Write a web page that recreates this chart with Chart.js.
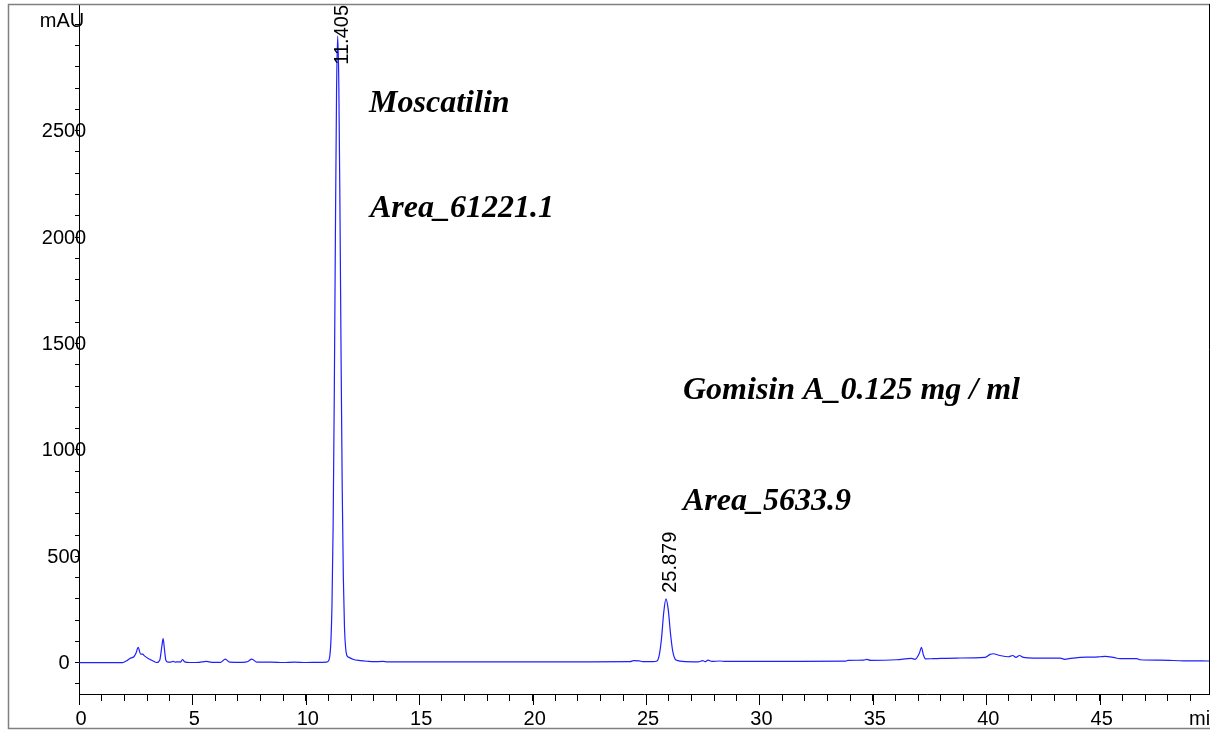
<!DOCTYPE html>
<html>
<head>
<meta charset="utf-8">
<title>Chromatogram</title>
<script src="https://cdn.jsdelivr.net/npm/chart.js@4.4.1/dist/chart.umd.min.js"></script>
<style>
  html, body { margin: 0; padding: 0; background: #fff; }
  #chrom { display: block; }
</style>
</head>
<body>
<canvas id="chrom" width="1220" height="731"></canvas>
<script>
// ========== trace data ==========
const TIME_MIN = [
  0, 1.0, 1.9, 1.95, 2.10, 2.24, 2.42, 2.51, 2.61, 2.71, 2.80, 2.90, 3.05, 3.27, 3.42,
  3.56, 3.65, 3.71, 3.77, 3.83, 3.93, 4.05, 4.15, 4.25, 4.37, 4.48, 4.56, 4.66, 4.88,
  5.3, 5.62, 5.85, 6.25, 6.45, 6.64, 7.2, 7.45, 7.62, 7.84, 8.48, 9.0, 9.5, 10.0, 10.53,
  10.9, 11.0, 11.055, 11.105, 11.155, 11.205, 11.255, 11.305, 11.355, 11.405, 11.455,
  11.505, 11.555, 11.605, 11.655, 11.705, 11.755, 11.805, 11.9, 12.1, 12.4, 12.7, 13.0,
  13.4, 13.6, 14.5, 16, 18, 20, 22, 24.3, 24.45, 24.7, 24.85, 25.3, 25.48, 25.58, 25.68,
  25.78, 25.879, 25.98, 26.08, 26.18, 26.28, 26.4, 26.6, 27.3, 27.5, 27.6, 27.73, 27.9,
  28.26, 28.5, 31.8, 33.8, 33.9, 34.6, 34.73, 34.9, 36.05, 36.7, 36.86, 37.05, 37.14,
  37.23, 37.32, 37.67, 38.7, 39.95, 40.17, 40.31, 40.6, 40.97, 41.17, 41.31, 41.46, 41.64,
  42.08, 43.26, 43.45, 43.7, 44.43, 44.72, 45.02, 45.24, 45.61, 45.9, 46.64, 46.78, 47.67,
  48.7, 49.82
];
const SIGNAL_MAU = [
  0, 0, 0, 1, 9, 20, 28, 44, 72, 41, 40, 31, 20, 8, 1,
  12, 75, 113, 60, 12, 3, 3, 6, 3, 4, 3, 15, 4, 1,
  2, 6, 2, 2, 17, 3, 2, 6, 17, 3, 3, 1, 3, 1, 2,
  3, 8, 29, 98, 278, 650, 1258, 2018, 2680, 2945, 2718,
  2138, 1434, 819, 398, 165, 70, 35, 25, 15, 10, 7, 5,
  6, 4, 4, 4, 4, 4, 4, 5, 10, 9, 5, 5, 8, 35, 112,
  236, 300, 248, 135, 52, 17, 10, 6, 4, 10, 5, 12, 6,
  8, 6, 6, 7, 11, 12, 16, 11, 14, 20, 16, 44, 72,
  36, 18, 19, 22, 25, 39, 42, 34, 28, 34, 25, 34, 25,
  22, 22, 16, 20, 26, 26, 28, 30, 25, 19, 19, 14, 12,
  9, 8
];
const PEAK_RT = [11.405, 25.879];

// ========== axes ==========
const X_MIN = 0, X_MAX = 49.82;
const Y_MIN = -147, Y_MAX = 3095;
const X_MAJOR = [0, 5, 10, 15, 20, 25, 30, 35, 40, 45];
const Y_MAJOR = [0, 500, 1000, 1500, 2000, 2500];
const X_UNIT = "min";
const Y_UNIT = "mAU";
const Y_UNIT_AT = 3000;
const X_MINOR = Array.from({ length: 50 }, (_, i) => i);
const Y_MINOR = Array.from({ length: 32 }, (_, i) => (i - 1) * 100);

// free text notes, anchored in data units (min, mAU)
const NOTES = [
  { text: "Moscatilin", x: 12.79, y: 2587 },
  { text: "Area_61221.1", x: 12.83, y: 2095 },
  { text: "Gomisin A_0.125 mg / ml", x: 26.63, y: 1241 },
  { text: "Area_5633.9", x: 26.63, y: 716 },
];

const SANS = '"Liberation Sans", Arial, sans-serif';
const SERIF = '"Liberation Serif", "Times New Roman", serif';

// ========== overlay drawing ==========
const chromOverlay = {
  id: "chromOverlay",
  afterDraw(chart) {
    const { ctx, chartArea: area, scales } = chart;
    const xs = scales.x, ys = scales.y;
    ctx.save();

    // outer frame + right border
    ctx.strokeStyle = "#808080";
    ctx.lineWidth = 1.5;
    ctx.beginPath();
    ctx.moveTo(1210, 4.5);
    ctx.lineTo(8.5, 4.5);
    ctx.lineTo(8.5, 728.5);
    ctx.lineTo(1210, 728.5);
    ctx.stroke();
    ctx.strokeStyle = "#000";
    ctx.lineWidth = 1;
    ctx.beginPath();
    ctx.moveTo(area.right + 0.5, area.top);
    ctx.lineTo(area.right + 0.5, area.bottom + 0.5);
    ctx.stroke();

    // longer marks on major x ticks
    ctx.beginPath();
    X_MAJOR.forEach((v) => {
      const px = Math.round(xs.getPixelForValue(v)) + 0.5;
      ctx.moveTo(px, area.bottom);
      ctx.lineTo(px, area.bottom + 11);
    });
    ctx.stroke();

    ctx.fillStyle = "#000";
    ctx.font = "20px " + SANS;
    ctx.textBaseline = "middle";

    // y labels, centred over the axis line
    ctx.textAlign = "center";
    Y_MAJOR.forEach((v) => ctx.fillText(String(v), 64, ys.getPixelForValue(v) + 1));
    ctx.fillText(Y_UNIT, 62, ys.getPixelForValue(Y_UNIT_AT) - 3);

    // x labels
    X_MAJOR.forEach((v) => ctx.fillText(String(v), xs.getPixelForValue(v) + 2, 719));

    // x unit, cut at the right edge
    ctx.save();
    ctx.beginPath();
    ctx.rect(0, 0, area.right, chart.height);
    ctx.clip();
    ctx.textAlign = "left";
    ctx.fillText(X_UNIT, area.right - 20, 719);
    ctx.restore();

    // retention time labels, rotated
    PEAK_RT.forEach((rt) => {
      const i = TIME_MIN.indexOf(rt);
      const px = xs.getPixelForValue(rt);
      const py = ys.getPixelForValue(SIGNAL_MAU[i]);
      const label = rt.toFixed(3);
      const len = ctx.measureText(label).width;
      const start = Math.max(py - 6, area.top + 1 + len);
      ctx.save();
      ctx.translate(px + 5, start);
      ctx.rotate(-Math.PI / 2);
      ctx.textAlign = "left";
      ctx.textBaseline = "middle";
      ctx.fillText(label, 0, 0);
      ctx.restore();
    });

    // compound notes
    ctx.font = "italic bold 32px " + SERIF;
    ctx.textAlign = "left";
    ctx.textBaseline = "alphabetic";
    NOTES.forEach((n) => {
      ctx.fillText(n.text, xs.getPixelForValue(n.x), ys.getPixelForValue(n.y));
    });

    ctx.restore();
  },
};

// ========== chart ==========
new Chart(document.getElementById("chrom"), {
  type: "line",
  data: {
    datasets: [
      {
        data: TIME_MIN.map((t, i) => ({ x: t, y: SIGNAL_MAU[i] })),
        borderColor: "#1f1fff",
        borderWidth: 1.2,
        pointRadius: 0,
        fill: false,
        cubicInterpolationMode: "monotone",
      },
    ],
  },
  options: {
    responsive: false,
    animation: false,
    devicePixelRatio: 1,
    layout: { padding: { left: 8, top: 4, right: 11, bottom: 2 } },
    plugins: { legend: { display: false }, tooltip: { enabled: false } },
    scales: {
      x: {
        type: "linear",
        min: X_MIN,
        max: X_MAX,
        afterBuildTicks: (s) => { s.ticks = X_MINOR.map((v) => ({ value: v })); },
        afterFit: (s) => { s.height = 35; },
        grid: { drawOnChartArea: false, drawTicks: true, tickLength: 7, color: "#000" },
        border: { display: true, color: "#000", width: 1 },
        ticks: { display: false },
      },
      y: {
        type: "linear",
        min: Y_MIN,
        max: Y_MAX,
        afterBuildTicks: (s) => { s.ticks = Y_MINOR.map((v) => ({ value: v })); },
        afterFit: (s) => { s.width = 71; },
        grid: { drawOnChartArea: false, drawTicks: true, tickLength: 4, color: "#000" },
        border: { display: true, color: "#000", width: 1 },
        ticks: { display: false },
      },
    },
  },
  plugins: [chromOverlay],
});
</script>
</body>
</html>
